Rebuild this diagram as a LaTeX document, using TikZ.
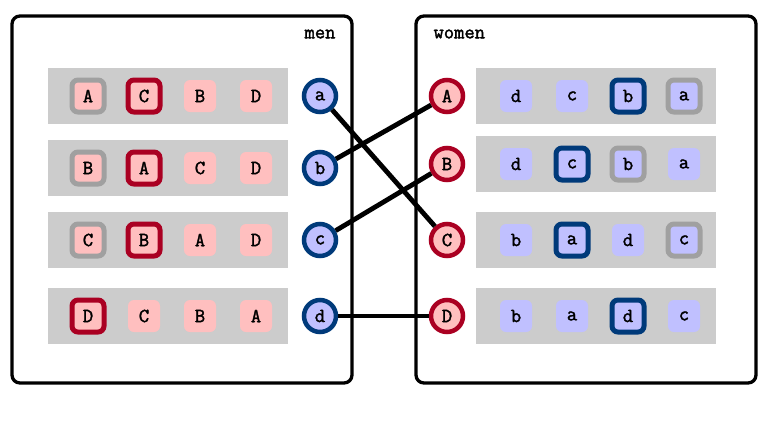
\documentclass[tikz,border=0pt]{standalone}
\usepackage{fontspec}
\newfontfamily\labelfont{Latin Modern Mono}[FakeBold=1.8]
\definecolor{rowgray}{HTML}{CCCCCC}
\definecolor{pinkfill}{HTML}{FFBFBF}
\definecolor{bluefill}{HTML}{C0C0FF}
\definecolor{redline}{HTML}{AA0022}
\definecolor{blueline}{HTML}{003A7A}
\definecolor{grayline}{HTML}{A0A0A0}
\begin{document}
\begin{tikzpicture}[x=1pt,y=-1pt,
  every node/.style={font=\labelfont\fontsize{20}{20}\selectfont},
  panel/.style={draw=black,line width=3.3pt,rounded corners=8pt},
  prow/.style={fill=rowgray,draw=none},
  pref/.style={rectangle,rounded corners=6pt,minimum size=32pt,inner sep=0pt,line width=5pt},
  mpref/.style={pref,fill=pinkfill},
  wpref/.style={pref,fill=bluefill},
  gray/.style={draw=grayline},
  red/.style={draw=redline},
  blue/.style={draw=blueline},
  none/.style={},
  man/.style={circle,minimum size=32pt,inner sep=0pt,line width=4.5pt,draw=blueline,fill=bluefill},
  woman/.style={circle,minimum size=32pt,inner sep=0pt,line width=4.5pt,draw=redline,fill=pinkfill},
  match/.style={line width=4.8pt,draw=black}]
\useasboundingbox (0,0) rectangle (768,432);
\draw[panel] (12,16) rectangle (352,383);
\draw[panel] (416,16) rectangle (756,383);
\node[anchor=east] (menlbl) at (339,34) {men};
\node[anchor=west] (womenlbl) at (430,34) {women};
% men rows
\foreach \n/\y/\pa/\sa/\pb/\sb/\pc/\sc/\pd/\sd in {
  a/96/A/gray/C/red/B/none/D/none,
  b/168/B/gray/A/red/C/none/D/none,
  c/240/C/gray/B/red/A/none/D/none,
  d/316/D/red/C/none/B/none/A/none}{
  \fill[prow] (48,\y-28) rectangle (288,\y+28);
  \node[mpref,\sa] (m\n1) at (88,\y) {\pa};
  \node[mpref,\sb] (m\n2) at (144,\y) {\pb};
  \node[mpref,\sc] (m\n3) at (200,\y) {\pc};
  \node[mpref,\sd] (m\n4) at (256,\y) {\pd};
}
% women rows
\foreach \n/\y/\pa/\sa/\pb/\sb/\pc/\sc/\pd/\sd in {
  A/96/d/none/c/none/b/blue/a/gray,
  B/164/d/none/c/blue/b/gray/a/none,
  C/240/b/none/a/blue/d/none/c/gray,
  D/316/b/none/a/none/d/blue/c/none}{
  \fill[prow] (476,\y-28) rectangle (716,\y+28);
  \node[wpref,\sa] (w\n1) at (516,\y) {\pa};
  \node[wpref,\sb] (w\n2) at (572,\y) {\pb};
  \node[wpref,\sc] (w\n3) at (628,\y) {\pc};
  \node[wpref,\sd] (w\n4) at (684,\y) {\pd};
}
\node[man] (ma) at (320,96) {a};
\node[man] (mb) at (320,168) {b};
\node[man] (mc) at (320,240) {c};
\node[man] (md) at (320,316) {d};
\node[woman] (wA) at (447,96) {A};
\node[woman] (wB) at (447,164) {B};
\node[woman] (wC) at (447,240) {C};
\node[woman] (wD) at (447,316) {D};
\draw[match] (ma) -- (wC);
\draw[match] (mb) -- (wA);
\draw[match] (mc) -- (wB);
\draw[match] (md) -- (wD);
\end{tikzpicture}
\end{document}
